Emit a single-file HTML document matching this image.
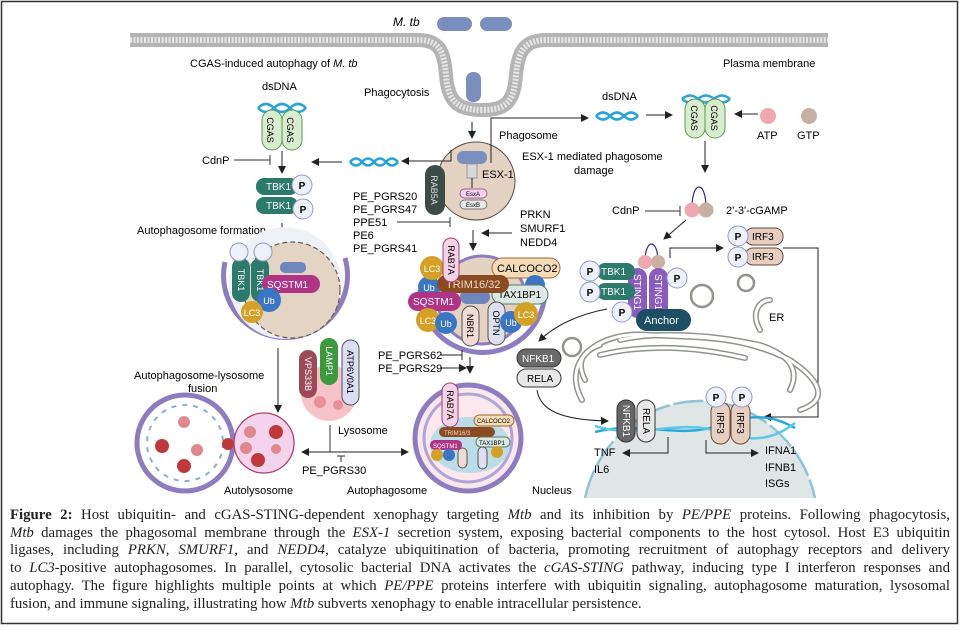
<!DOCTYPE html>
<html><head><meta charset="utf-8"><style>
body{margin:0;background:#fff;}
#w{position:relative;width:960px;height:630px;overflow:hidden;background:#fff;}
svg{position:absolute;left:0;top:0;}
svg text{font-family:"Liberation Sans",sans-serif;}
#cap{position:absolute;left:10px;top:507px;width:940px;font-family:"Liberation Serif",serif;font-size:14.8px;line-height:17.7px;color:#222;}
#cap div{text-align:justify;text-align-last:justify;white-space:nowrap;}
#cap div.l{text-align-last:left;}
</style></head><body><div id="w">
<svg width="960" height="630" viewBox="0 0 960 630">
<defs>
<marker id="a" markerWidth="8" markerHeight="8" refX="7" refY="4" orient="auto" markerUnits="userSpaceOnUse"><path d="M0,0 L8,4 L0,8 z" fill="#222"/></marker>
</defs>
<rect x="1.5" y="1.5" width="956" height="622" fill="none" stroke="#333" stroke-width="1.5"/>
<path d="M130,40 H418 C440,40 444,52 446,75 C448,102 458,110 482,110 C506,110 514,102 516,75 C518,52 524,40 546,40 H828" fill="none" stroke="#b4b4b4" stroke-width="14"/>
<path d="M130,40 H418 C440,40 444,52 446,75 C448,102 458,110 482,110 C506,110 514,102 516,75 C518,52 524,40 546,40 H828" fill="none" stroke="#e6e6e6" stroke-width="6" stroke-dasharray="2 1.5"/>
<rect x="437" y="17" width="35" height="14" rx="7" fill="#7b8fbf"/>
<rect x="480" y="17" width="32" height="14" rx="7" fill="#7b8fbf"/>
<rect x="466" y="72" width="15" height="30" rx="7" fill="#7b8fbf"/>
<text x="393" y="26" font-size="12" font-style="italic">M. tb</text>
<text x="190" y="67" font-size="11">CGAS-induced autophagy of <tspan font-style="italic">M. tb</tspan></text>
<text x="364" y="96" font-size="11">Phagocytosis</text>
<text x="723" y="67" font-size="11">Plasma membrane</text>
<text x="262" y="90" font-size="11">dsDNA</text>
<path d="M258,108 q8,-8 16,0 t16,0 t16,0" fill="none" stroke="#28a4d8" stroke-width="2.5"/>
<path d="M258,108 q8,8 16,0 t16,0 t16,0" fill="none" stroke="#28a4d8" stroke-width="2.5"/>
<rect x="262" y="110" width="20" height="40" rx="10" fill="#d8ecd0" stroke="#5a9a4a"/>
<rect x="282" y="110" width="20" height="40" rx="10" fill="#d8ecd0" stroke="#5a9a4a"/>
<text transform="translate(267,130) rotate(90)" font-size="9" text-anchor="middle">CGAS</text>
<text transform="translate(287,130) rotate(90)" font-size="9" text-anchor="middle">CGAS</text>
<text x="202" y="164" font-size="11">CdnP</text>
<line x1="234" y1="160" x2="270" y2="160" stroke="#333"/><line x1="270" y1="155" x2="270" y2="165" stroke="#333"/>
<line x1="282" y1="151" x2="282" y2="173" stroke="#222" marker-end="url(#a)"/>
<line x1="342" y1="162" x2="312" y2="162" stroke="#222" marker-end="url(#a)"/>
<rect x="256" y="178" width="42" height="17" rx="8" fill="#2b7a6c"/><text x="266" y="190" font-size="10" fill="#fff">TBK1</text>
<rect x="256" y="197" width="42" height="17" rx="8" fill="#2b7a6c"/><text x="266" y="209" font-size="10" fill="#fff">TBK1</text>
<circle cx="302" cy="185" r="10" fill="#eef0fa" stroke="#8e99c8"/><text x="302" y="189" font-size="10" font-weight="bold" text-anchor="middle">P</text>
<circle cx="303" cy="209" r="10" fill="#eef0fa" stroke="#8e99c8"/><text x="303" y="213" font-size="10" font-weight="bold" text-anchor="middle">P</text>
<text x="137" y="234" font-size="11">Autophagosome formation</text>
<line x1="282" y1="223" x2="282" y2="243" stroke="#222" marker-end="url(#a)"/>
<path d="M225,262 A62,62 0 1 0 345,258" fill="none" stroke="#8d7cc0" stroke-width="5"/>
<circle cx="285" cy="283" r="56" fill="#eef2f6"/>
<circle cx="292" cy="290" r="48" fill="#e4d4c4" stroke="#6a5a50" stroke-dasharray="5 3" stroke-width="1.2"/>
<rect x="280" y="262" width="26" height="11" rx="5" fill="#6e86bc"/>
<rect x="232" y="258" width="18" height="44" rx="9" fill="#2b7a6c"/><text transform="translate(238,280) rotate(90)" font-size="9" fill="#fff" text-anchor="middle">TBK1</text>
<rect x="251" y="258" width="18" height="44" rx="9" fill="#2b7a6c"/><text transform="translate(257,280) rotate(90)" font-size="9" fill="#fff" text-anchor="middle">TBK1</text>
<circle cx="239" cy="252" r="9" fill="#eef0fa" stroke="#8e99c8"/><circle cx="263" cy="252" r="9" fill="#eef0fa" stroke="#8e99c8"/>
<rect x="262" y="275" width="58" height="18" rx="9" fill="#b03485"/><text x="267" y="288" font-size="10" fill="#fff">SQSTM1</text>
<circle cx="269" cy="300" r="12" fill="#3a76c4"/><text x="269" y="304" font-size="9" fill="#fff" text-anchor="middle">Ub</text>
<circle cx="252" cy="312" r="11" fill="#d4a126"/><text x="252" y="316" font-size="9" fill="#fff" text-anchor="middle">LC3</text>
<line x1="472" y1="122" x2="472" y2="138" stroke="#222" marker-end="url(#a)"/>
<circle cx="476" cy="181" r="39" fill="#e4d2c2" stroke="#5a4a44"/>
<rect x="457" y="151" width="30" height="13" rx="6" fill="#7b8fbf"/>
<rect x="467" y="164" width="10" height="14" fill="#d8d8d8" stroke="#999"/>
<line x1="472" y1="178" x2="472" y2="188" stroke="#222"/>
<rect x="460" y="189" width="27" height="9" rx="4.5" fill="#f4d4ee" stroke="#a06090"/><text x="473" y="196" font-size="6" text-anchor="middle">EsxA</text>
<rect x="460" y="200" width="27" height="9" rx="4.5" fill="#e8e8e8" stroke="#777"/><text x="473" y="207" font-size="6" text-anchor="middle">EsxB</text>
<rect x="425" y="165" width="20" height="50" rx="10" fill="#3c4b47"/><text transform="translate(431,190) rotate(90)" font-size="9" fill="#ddd" text-anchor="middle">RAB5A</text>
<text x="482" y="178" font-size="11">ESX-1</text>
<path d="M491,163 V118 H588" fill="none" stroke="#222" marker-end="url(#a)"/>
<path d="M451,150 V161 H402" fill="none" stroke="#222" marker-end="url(#a)"/>
<path d="M350,162 q6,-7 12,0 t12,0 t12,0 t12,0" fill="none" stroke="#28a4d8" stroke-width="2.5"/>
<path d="M350,162 q6,7 12,0 t12,0 t12,0 t12,0" fill="none" stroke="#28a4d8" stroke-width="2.5"/>
<text x="499" y="139" font-size="11">Phagosome</text>
<text x="522" y="160" font-size="11">ESX-1 mediated phagosome</text>
<text x="574" y="174" font-size="11">damage</text>
<g font-size="11"><text x="353" y="200">PE_PGRS20</text><text x="353" y="213">PE_PGRS47</text><text x="353" y="226">PPE51</text><text x="353" y="239">PE6</text><text x="353" y="252">PE_PGRS41</text></g>
<line x1="397" y1="222" x2="450" y2="222" stroke="#333"/><line x1="450" y1="217" x2="450" y2="227" stroke="#333"/>
<line x1="473" y1="230" x2="473" y2="250" stroke="#222" marker-end="url(#a)"/>
<g font-size="11"><text x="520" y="218">PRKN</text><text x="520" y="232">SMURF1</text><text x="520" y="246">NEDD4</text></g>
<line x1="512" y1="233" x2="482" y2="233" stroke="#222" marker-end="url(#a)"/>
<circle cx="482" cy="300" r="44" fill="#e4d2c2" stroke="#8d7cc0" stroke-width="3"/>
<path d="M420,290 A62,62 0 0 0 545,290" fill="none" stroke="#8d7cc0" stroke-width="5"/>
<rect x="460" y="290" width="30" height="14" rx="7" fill="#6e86bc"/>
<rect x="492" y="258" width="68" height="20" rx="10" fill="#f4dcb8" stroke="#a06a30"/><text x="497" y="272" font-size="11">CALCOCO2</text>
<circle cx="535" cy="285" r="10" fill="#3a76c4"/>
<rect x="492" y="285" width="56" height="19" rx="9.5" fill="#dce8e4" stroke="#5a7a70"/><text x="498" y="298" font-size="10">TAX1BP1</text>
<circle cx="429" cy="287" r="11" fill="#3a76c4"/><text x="429" y="291" font-size="9" fill="#fff" text-anchor="middle">Ub</text>
<circle cx="432" cy="268" r="12" fill="#d4a126"/><text x="432" y="272" font-size="9" fill="#fff" text-anchor="middle">LC3</text>
<rect x="437" y="275" width="72" height="18" rx="9" fill="#8a4a22"/><text x="446" y="288" font-size="11" fill="#f0d8c8">TRIM16/32</text>
<rect x="443" y="238" width="16" height="44" rx="8" fill="#f6d2e6" stroke="#a04070"/><text transform="translate(448,260) rotate(90)" font-size="9" text-anchor="middle">RAB7A</text>
<rect x="408" y="292" width="53" height="19" rx="9.5" fill="#b03485"/><text x="413" y="305" font-size="10" fill="#fff">SQSTM1</text>
<circle cx="428" cy="320" r="12" fill="#d4a126"/><text x="428" y="324" font-size="9" fill="#fff" text-anchor="middle">LC3</text>
<circle cx="446" cy="323" r="11" fill="#3a76c4"/><text x="446" y="327" font-size="9" fill="#fff" text-anchor="middle">Ub</text>
<rect x="462" y="306" width="17" height="40" rx="8.5" fill="#f0dcd4" stroke="#555"/><text transform="translate(467,326) rotate(90)" font-size="9" text-anchor="middle">NBR1</text>
<rect x="488" y="302" width="17" height="43" rx="8.5" fill="#dde0f0" stroke="#555"/><text transform="translate(493,323) rotate(90)" font-size="9" text-anchor="middle">OPTN</text>
<circle cx="511" cy="322" r="11" fill="#3a76c4"/><text x="511" y="326" font-size="9" fill="#fff" text-anchor="middle">Ub</text>
<circle cx="526" cy="314" r="12" fill="#d4a126"/><text x="526" y="318" font-size="9" fill="#fff" text-anchor="middle">LC3</text>
<line x1="278" y1="348" x2="278" y2="412" stroke="#222" marker-end="url(#a)"/>
<text x="134" y="379" font-size="11">Autophagosome-lysosome</text>
<text x="188" y="392" font-size="11">fusion</text>
<circle cx="329" cy="393" r="28" fill="#f6c4c8"/>
<circle cx="320" cy="402" r="6" fill="#e89098"/><circle cx="338" cy="405" r="5" fill="#e89098"/>
<rect x="299" y="350" width="18" height="48" rx="9" fill="#9b4a5a"/><text transform="translate(305,374) rotate(90)" font-size="9" fill="#fff" text-anchor="middle">VPS33B</text>
<rect x="320" y="338" width="18" height="47" rx="9" fill="#3c9a3c"/><text transform="translate(326,361) rotate(90)" font-size="9" fill="#fff" text-anchor="middle">LAMP1</text>
<rect x="342" y="340" width="17" height="65" rx="8.5" fill="#dcdcf4" stroke="#555"/><text transform="translate(347,372) rotate(90)" font-size="9" text-anchor="middle">ATP6V0A1</text>
<text x="338" y="434" font-size="11">Lysosome</text>
<line x1="330" y1="425" x2="330" y2="452" stroke="#333"/>
<line x1="330" y1="452" x2="302" y2="452" stroke="#222" marker-end="url(#a)"/>
<line x1="330" y1="452" x2="408" y2="452" stroke="#222" marker-end="url(#a)"/>
<line x1="341" y1="456" x2="341" y2="462" stroke="#333"/><line x1="337" y1="456" x2="345" y2="456" stroke="#333"/>
<text x="302" y="474" font-size="11">PE_PGRS30</text>
<circle cx="185" cy="443" r="48" fill="#fff" stroke="#8d7cc0" stroke-width="5"/>
<circle cx="185" cy="443" r="38" fill="none" stroke="#8ab0d0" stroke-width="2" stroke-dasharray="5 6"/>
<circle cx="264" cy="443" r="30" fill="#f4d4ec" stroke="#b0406a" stroke-width="1.3"/>
<g fill="#c0383a"><circle cx="162" cy="446" r="7"/><circle cx="184" cy="466" r="7"/><circle cx="228" cy="444" r="6"/><circle cx="258" cy="460" r="7"/><circle cx="276" cy="432" r="7"/></g>
<g fill="#e08890"><circle cx="184" cy="422" r="6"/><circle cx="197" cy="450" r="6"/><circle cx="250" cy="432" r="6"/><circle cx="246" cy="448" r="6"/><circle cx="276" cy="449" r="5"/></g>
<text x="224" y="494" font-size="11">Autolysosome</text>
<line x1="440" y1="355" x2="462" y2="355" stroke="#222"/><line x1="462" y1="350" x2="462" y2="360" stroke="#222"/>
<line x1="440" y1="368" x2="466" y2="368" stroke="#222" marker-end="url(#a)"/>
<line x1="470" y1="357" x2="470" y2="373" stroke="#222" marker-end="url(#a)"/>
<text x="378" y="359" font-size="11">PE_PGRS62</text>
<text x="378" y="372" font-size="11">PE_PGRS29</text>
<circle cx="468" cy="438" r="53" fill="#fbe8ec" stroke="#8d7cc0" stroke-width="5"/>
<circle cx="468" cy="438" r="44" fill="none" stroke="#b0a4d8" stroke-width="3"/>
<ellipse cx="470" cy="445" rx="40" ry="28" fill="#bcdce8"/>
<rect x="442" y="383" width="16" height="44" rx="8" fill="#f6d2e6" stroke="#a04070"/><text transform="translate(447,405) rotate(90)" font-size="9" text-anchor="middle">RAB7A</text>
<rect x="474" y="415" width="40" height="11" rx="5.5" fill="#f4dcb8" stroke="#a06a30"/><text x="477" y="423" font-size="6">CALCOCO2</text>
<rect x="439" y="427" width="56" height="10" rx="5" fill="#8a4a22"/><text x="444" y="435" font-size="6" fill="#f0d8c8">TRIM16/3</text>
<rect x="476" y="437" width="34" height="10" rx="5" fill="#dce8e4" stroke="#5a7a70"/><text x="479" y="445" font-size="6">TAX1BP1</text>
<rect x="430" y="440" width="32" height="10" rx="5" fill="#b03485"/><text x="433" y="448" font-size="6" fill="#fff">SQSTM1</text>
<circle cx="437" cy="455" r="6" fill="#d4a126"/><circle cx="449" cy="455" r="6" fill="#3a76c4"/><circle cx="497" cy="452" r="6" fill="#d4a126"/>
<rect x="458" y="448" width="9" height="20" rx="4.5" fill="#f0dcd4" stroke="#555"/><rect x="478" y="447" width="9" height="22" rx="4.5" fill="#dde0f0" stroke="#555"/>
<text x="347" y="494" font-size="11">Autophagosome</text>
<text x="602" y="100" font-size="11">dsDNA</text>
<path d="M596,116 q7,-7 14,0 t14,0 t14,0" fill="none" stroke="#28a4d8" stroke-width="2.5"/>
<path d="M596,116 q7,7 14,0 t14,0 t14,0" fill="none" stroke="#28a4d8" stroke-width="2.5"/>
<line x1="646" y1="115" x2="672" y2="115" stroke="#222" marker-end="url(#a)"/>
<path d="M682,99 q8,-7 16,0 t16,0 t16,0" fill="none" stroke="#28a4d8" stroke-width="2.5"/>
<path d="M682,99 q8,7 16,0 t16,0 t16,0" fill="none" stroke="#28a4d8" stroke-width="2.5"/>
<rect x="685" y="99" width="20" height="39" rx="10" fill="#d8ecd0" stroke="#5a9a4a"/>
<rect x="705" y="99" width="20" height="39" rx="10" fill="#d8ecd0" stroke="#5a9a4a"/>
<text transform="translate(691,118) rotate(90)" font-size="9" text-anchor="middle">CGAS</text>
<text transform="translate(711,118) rotate(90)" font-size="9" text-anchor="middle">CGAS</text>
<line x1="758" y1="114" x2="735" y2="114" stroke="#222" marker-end="url(#a)"/>
<circle cx="768" cy="116" r="8" fill="#f0a8b0"/><circle cx="809" cy="116" r="8" fill="#c8b0a0"/>
<text x="757" y="139" font-size="11">ATP</text><text x="797" y="139" font-size="11">GTP</text>
<line x1="705" y1="141" x2="705" y2="172" stroke="#222" marker-end="url(#a)"/>
<path d="M692,208 C692,180 706,180 706,208" fill="none" stroke="#3a2a7a" stroke-width="1.2"/>
<circle cx="692" cy="210" r="7.5" fill="#f0a8b0"/><circle cx="706" cy="210" r="7.5" fill="#c8b0a0"/>
<text x="726" y="214" font-size="11">2'-3'-cGAMP</text>
<text x="612" y="214" font-size="11">CdnP</text>
<line x1="645" y1="211" x2="680" y2="211" stroke="#333"/><line x1="680" y1="206" x2="680" y2="216" stroke="#333"/>
<line x1="686" y1="220" x2="664" y2="239" stroke="#222" marker-end="url(#a)"/>
<path d="M645,262 C645,238 658,238 658,262" fill="none" stroke="#3a2a7a" stroke-width="1.2"/>
<circle cx="645" cy="262" r="7" fill="#f0a8b0"/><circle cx="658" cy="262" r="7" fill="#c8b0a0"/>
<rect x="628" y="268" width="19" height="50" rx="9.5" fill="#8a5cc0"/><text transform="translate(634,292) rotate(90)" font-size="10" fill="#fff" text-anchor="middle">STING1</text>
<rect x="649" y="268" width="19" height="50" rx="9.5" fill="#8a5cc0"/><text transform="translate(655,292) rotate(90)" font-size="10" fill="#fff" text-anchor="middle">STING1</text>
<rect x="597" y="263" width="38" height="17" rx="8" fill="#2b7a6c"/><text x="601" y="275" font-size="10" fill="#fff">TBK1</text>
<rect x="597" y="283" width="38" height="17" rx="8" fill="#2b7a6c"/><text x="601" y="295" font-size="10" fill="#fff">TBK1</text>
<circle cx="590" cy="271" r="10" fill="#eef0fa" stroke="#8e99c8"/><text x="590" y="275" font-size="10" font-weight="bold" text-anchor="middle">P</text>
<circle cx="590" cy="292" r="10" fill="#eef0fa" stroke="#8e99c8"/><text x="590" y="296" font-size="10" font-weight="bold" text-anchor="middle">P</text>
<circle cx="677" cy="278" r="10" fill="#eef0fa" stroke="#8e99c8"/><text x="677" y="282" font-size="10" font-weight="bold" text-anchor="middle">P</text>
<circle cx="622" cy="312" r="10" fill="#eef0fa" stroke="#8e99c8"/><text x="622" y="316" font-size="10" font-weight="bold" text-anchor="middle">P</text>
<rect x="636" y="309" width="55" height="22" rx="11" fill="#1d4e63"/><text x="644" y="324" font-size="11" fill="#fff">Anchor</text>
<path d="M670,258 V248 H723" fill="none" stroke="#222" marker-end="url(#a)"/>
<rect x="745" y="228" width="38" height="17" rx="8" fill="#e6cfc0" stroke="#6a4a3a"/><text x="752" y="240" font-size="10">IRF3</text>
<rect x="745" y="248" width="38" height="17" rx="8" fill="#e6cfc0" stroke="#6a4a3a"/><text x="752" y="260" font-size="10">IRF3</text>
<circle cx="738" cy="236" r="10" fill="#eef0fa" stroke="#8e99c8"/><text x="738" y="240" font-size="10" font-weight="bold" text-anchor="middle">P</text>
<circle cx="738" cy="257" r="10" fill="#eef0fa" stroke="#8e99c8"/><text x="738" y="261" font-size="10" font-weight="bold" text-anchor="middle">P</text>
<path d="M783,248 H818 V417 H764" fill="none" stroke="#222" marker-end="url(#a)"/>
<g fill="none" stroke="#8f948c" stroke-width="6" stroke-linecap="round">
<path d="M582,400 C560,360 600,330 650,335 C700,338 740,335 790,360 C820,380 830,400 800,410"/>
<path d="M600,355 C640,345 690,345 745,358"/>
<path d="M620,340 C650,333 700,332 760,345 C790,355 800,370 790,390"/>
<path d="M760,330 C750,312 760,300 770,300"/>
<path d="M585,380 C575,360 585,350 600,345"/>
</g>
<g fill="none" stroke="#fff" stroke-width="3" stroke-linecap="round">
<path d="M582,400 C560,360 600,330 650,335 C700,338 740,335 790,360 C820,380 830,400 800,410"/>
<path d="M600,355 C640,345 690,345 745,358"/>
<path d="M620,340 C650,333 700,332 760,345 C790,355 800,370 790,390"/>
<path d="M760,330 C750,312 760,300 770,300"/>
<path d="M585,380 C575,360 585,350 600,345"/>
</g>
<circle cx="702" cy="296" r="11" fill="none" stroke="#8f948c" stroke-width="2.5"/>
<circle cx="746" cy="283" r="8" fill="none" stroke="#8f948c" stroke-width="2.5"/>
<circle cx="572" cy="347" r="9" fill="none" stroke="#8f948c" stroke-width="2.5"/>
<text x="769" y="321" font-size="11">ER</text>
<path d="M585,498 A118,125 0 0 1 815,498 Z" fill="#dfe6e6"/>
<path d="M585,498 A118,125 0 0 1 815,498" fill="none" stroke="#8cc4d8" stroke-width="2.5" stroke-dasharray="30 4"/>
<path d="M595,432 C640,420 680,440 720,425 S780,420 795,428" fill="none" stroke="#2aa8d8" stroke-width="2.5"/>
<path d="M595,426 C640,440 680,418 720,432 S780,434 795,423" fill="none" stroke="#5ac8e8" stroke-width="2.5"/>
<rect x="617" y="400" width="18" height="42" rx="9" fill="#666" stroke="#333"/><text transform="translate(623,421) rotate(90)" font-size="10" fill="#fff" text-anchor="middle">NFKB1</text>
<rect x="637" y="400" width="18" height="42" rx="9" fill="#e8e8e8" stroke="#333"/><text transform="translate(643,421) rotate(90)" font-size="10" text-anchor="middle">RELA</text>
<rect x="711" y="402" width="19" height="42" rx="9.5" fill="#e6cfc0" stroke="#6a4a3a"/><text transform="translate(717,423) rotate(90)" font-size="10" text-anchor="middle">IRF3</text>
<rect x="731" y="402" width="19" height="42" rx="9.5" fill="#e6cfc0" stroke="#6a4a3a"/><text transform="translate(737,423) rotate(90)" font-size="10" text-anchor="middle">IRF3</text>
<circle cx="716" cy="397" r="10" fill="#eef0fa" stroke="#8e99c8"/><text x="716" y="401" font-size="10" font-weight="bold" text-anchor="middle">P</text>
<circle cx="742" cy="397" r="10" fill="#eef0fa" stroke="#8e99c8"/><text x="742" y="401" font-size="10" font-weight="bold" text-anchor="middle">P</text>
<path d="M668,437 V453 H623" fill="none" stroke="#222" marker-end="url(#a)"/>
<path d="M706,440 V453 H758" fill="none" stroke="#222" marker-end="url(#a)"/>
<text x="594" y="456" font-size="11">TNF</text><text x="594" y="473" font-size="11">IL6</text>
<text x="765" y="454" font-size="11">IFNA1</text><text x="765" y="471" font-size="11">IFNB1</text><text x="765" y="487" font-size="11">ISGs</text>
<text x="532" y="494" font-size="11">Nucleus</text>
<rect x="517" y="349" width="44" height="18" rx="9" fill="#6a6a6a" stroke="#333"/><text x="522" y="362" font-size="10" fill="#fff">NFKB1</text>
<rect x="517" y="369" width="44" height="18" rx="9" fill="#e8e8e8" stroke="#333"/><text x="527" y="382" font-size="10">RELA</text>
<path d="M607,309 C580,314 555,325 539,341" fill="none" stroke="#222" marker-end="url(#a)"/>
<path d="M537,390 C540,410 560,420 608,421" fill="none" stroke="#222" marker-end="url(#a)"/>
</svg>
<div id="cap">
<div><b>Figure 2:</b> Host ubiquitin- and cGAS-STING-dependent xenophagy targeting <i>Mtb</i> and its inhibition by <i>PE/PPE</i> proteins. Following phagocytosis,</div>
<div><i>Mtb</i> damages the phagosomal membrane through the <i>ESX-1</i> secretion system, exposing bacterial components to the host cytosol. Host E3 ubiquitin</div>
<div>ligases, including <i>PRKN</i>, <i>SMURF1</i>, and <i>NEDD4</i>, catalyze ubiquitination of bacteria, promoting recruitment of autophagy receptors and delivery</div>
<div>to <i>LC3</i>-positive autophagosomes. In parallel, cytosolic bacterial DNA activates the <i>cGAS-STING</i> pathway, inducing type I interferon responses and</div>
<div>autophagy. The figure highlights multiple points at which <i>PE/PPE</i> proteins interfere with ubiquitin signaling, autophagosome maturation, lysosomal</div>
<div class="l">fusion, and immune signaling, illustrating how <i>Mtb</i> subverts xenophagy to enable intracellular persistence.</div>
</div>
</div></body></html>
